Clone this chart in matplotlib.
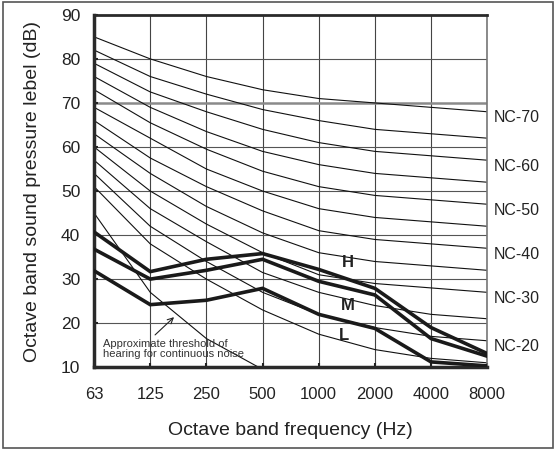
import matplotlib.pyplot as plt
from matplotlib.patches import Rectangle

plt.rcParams['font.family'] = ['Liberation Sans', 'DejaVu Sans']

# Octave band centre frequencies (Hz)
freqs = ['63', '125', '250', '500', '1000', '2000', '4000', '8000']

# NC curves (dB at each octave band)
nc_numbers = [70, 65, 60, 55, 50, 45, 40, 35, 30, 25, 20, 15]
nc_values = [
    [85, 80, 76, 73, 71, 70, 69, 68],
    [82, 76, 72, 68.5, 66, 64, 63, 62],
    [79, 72.5, 68, 64, 61, 59, 58, 57],
    [76, 69, 63.5, 59, 56, 54, 53, 52],
    [73, 65.5, 59.5, 54.5, 51, 49, 48, 47],
    [69, 62, 55, 50, 46, 44, 43, 42],
    [66, 57.5, 51, 45.5, 41, 39, 38, 37],
    [63, 54, 46.5, 40.5, 36, 34, 33, 32],
    [60, 50, 42.5, 36, 31, 29, 28, 27],
    [57, 46, 38.5, 31.5, 27, 24, 22, 21],
    [54, 42, 34, 27, 22, 19, 17, 16],
    [51, 38, 30, 23, 17.5, 14, 12, 11],
]
nc_labelled = [70, 60, 50, 40, 30, 20]

# approximate threshold of hearing
threshold = [45, 27, 16.5, 9.5]

# measured spectra
h_curve = [40.7, 31.7, 34.5, 35.8, 32.2, 27.9, 19, 13.1]
m_curve = [36.8, 30, 32, 34.5, 29.5, 26.4, 16.5, 12.5]
l_curve = [31.9, 24.2, 25.2, 27.9, 22, 18.8, 11.2, 10.3]

fig = plt.figure(figsize=(5.6, 4.5), dpi=100)
ax = fig.add_axes([0.168, 0.184, 0.702, 0.783])

x = list(range(len(freqs)))

# grid
for xi in x:
    ax.axvline(xi, color='#444444', lw=0.8, zorder=1)
for yv in range(20, 90, 10):
    if yv == 70:
        ax.axhline(yv, color='#8a8a8a', lw=1.8, zorder=1)
    else:
        ax.axhline(yv, color='#555555', lw=0.8, zorder=1)

# NC curves
for vals in nc_values:
    ax.plot(x, vals, color='#111111', lw=0.8, zorder=2)
ax.plot(x[:len(threshold)], threshold, color='#111111', lw=0.8, zorder=2)

# H / M / L spectra
for curve in (h_curve, m_curve, l_curve):
    ax.plot(x, curve, color='#1a1a1a', lw=2.6, zorder=3, solid_joinstyle='miter')

ax.text(4.52, 33.7, 'H', fontsize=12, fontweight='bold', ha='center', va='center', color='#222222')
ax.text(4.52, 23.9, 'M', fontsize=12, fontweight='bold', ha='center', va='center', color='#222222')
ax.text(4.45, 17.3, 'L', fontsize=12, fontweight='bold', ha='center', va='center', color='#222222')

# threshold annotation
ax.annotate('', xy=(1.46, 21.8), xytext=(1.05, 16.9),
            arrowprops=dict(arrowstyle='->', color='#222222', lw=0.8))
ax.text(0.16, 16.5, 'Approximate threshold of\nhearing for continuous noise',
        fontsize=8, color='#333333', ha='left', va='top', linespacing=1.1)

# NC labels on the right
for n in nc_labelled:
    v = nc_values[nc_numbers.index(n)][-1]
    ax.annotate('NC-%d' % n, xy=(7, v - 1.4), xytext=(4.5, 0), textcoords='offset points',
                fontsize=11.5, ha='left', va='center', color='#222222', annotation_clip=False)

ax.set_xlim(0, 7)
ax.set_ylim(10, 90)
ax.set_xticks(x)
ax.set_xticklabels(freqs)
ax.set_yticks(range(10, 100, 10))
ax.tick_params(direction='in', length=3, width=1.5, labelsize=12.5, colors='#222222', pad=10)
ax.tick_params(axis='x', pad=14, labelsize=12)

ax.set_xlabel('Octave band frequency (Hz)', fontsize=14, color='#222222', labelpad=15)
ax.set_ylabel('Octave band sound pressure lebel (dB)', fontsize=14, color='#222222', labelpad=14)

ax.spines['left'].set_linewidth(2.5)
ax.spines['bottom'].set_linewidth(2.5)
ax.spines['top'].set_linewidth(2)
ax.spines['right'].set_linewidth(1.2)
for s in ax.spines.values():
    s.set_color('#2a2a2a')
ax.spines['right'].set_color('#777777')

# frame round the whole figure
fig.patches.append(Rectangle((0.006, 0.004), 0.982, 0.992, transform=fig.transFigure,
                             fill=False, edgecolor='#555555', lw=1.2))

fig.savefig('out.png', dpi=100)
